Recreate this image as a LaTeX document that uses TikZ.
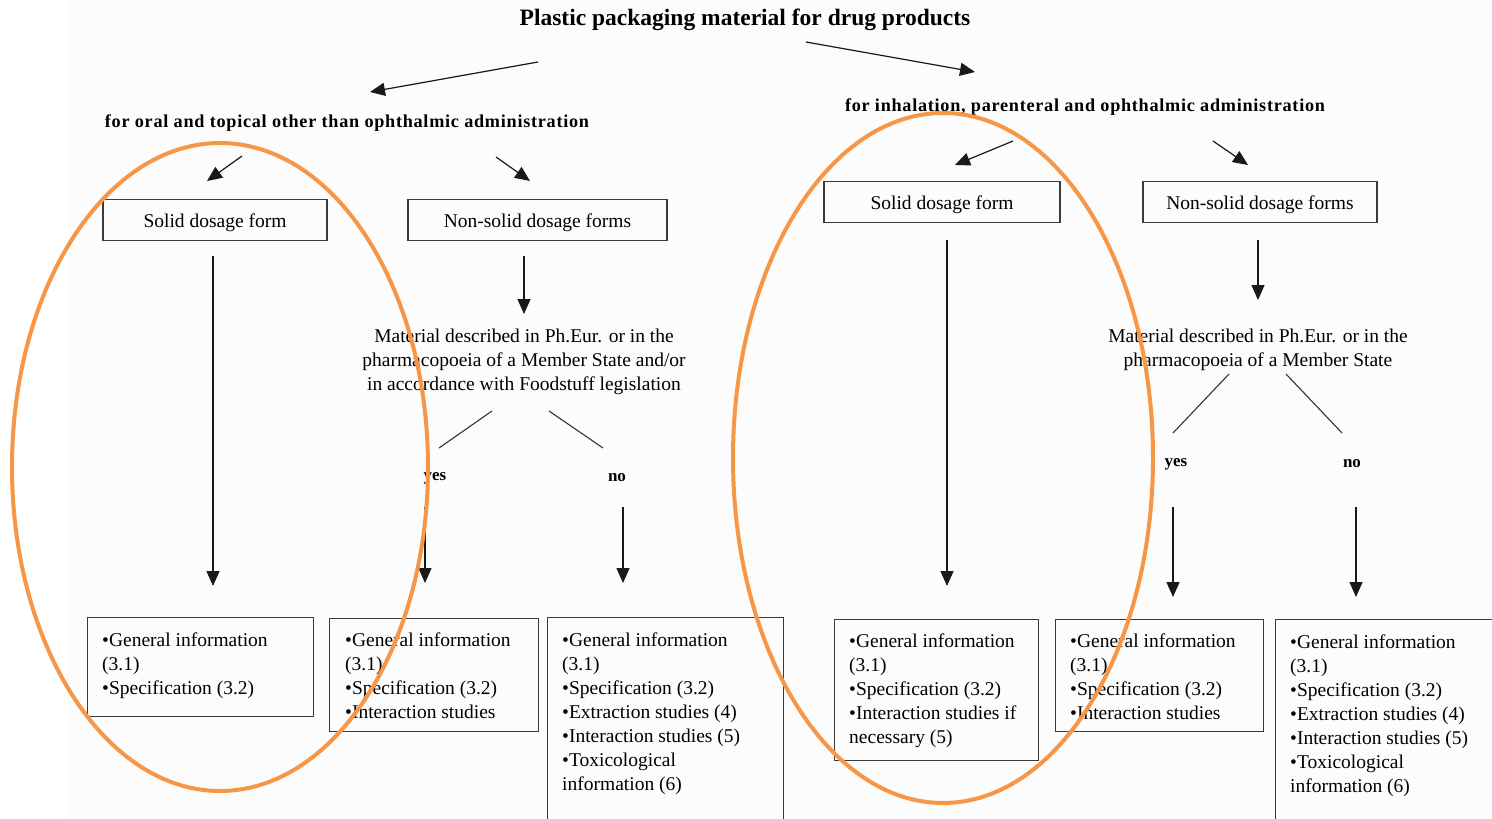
\documentclass[tikz,border=0pt]{standalone}
\usepackage{fontspec}
\setmainfont{Liberation Serif}
\usetikzlibrary{arrows.meta}
\definecolor{orng}{HTML}{F79646}
\definecolor{boxc}{HTML}{3A3A3A}
\begin{document}
\begin{tikzpicture}[x=1pt,y=-1pt,
  box/.style={draw=boxc, line width=1.4pt, inner sep=0pt, rectangle, font=\fontsize{19.5}{24}\selectfont},
  formbox/.style={box, minimum height=41pt, text height=14pt, text depth=0pt},
  lbl/.style={inner sep=0pt, font=\fontsize{19.5}{24}\selectfont},
  hdr/.style={inner sep=0pt, font=\bfseries\fontsize{18.2}{20}\selectfont},
  yn/.style={inner sep=0pt, font=\bfseries\fontsize{17}{20}\selectfont},
  arr/.style={draw=black!90, line width=1.2pt, -{Triangle[length=15pt,width=13pt]}},
  sarr/.style={draw=black!90, line width=1.2pt, -{Triangle[length=15pt,width=13pt]}},
  ln/.style={draw=black!80, line width=1.1pt},
  ell/.style={draw=orng, line width=4pt}]
\clip (0,0) rectangle (1492,819);
\fill[white] (0,0) rectangle (1492,819);
\fill[black!1] (67,0) rectangle (1492,819);

% title and headings
\node[inner sep=0pt, font=\bfseries\fontsize{23.5}{26}\selectfont] (title) at (745,20) {Plastic packaging material for drug products};
\node[hdr] (h1) at (347,123) {\addfontfeature{LetterSpace=4}for oral and topical other than ophthalmic administration};
\node[hdr] (h2) at (1085,107) {\addfontfeature{LetterSpace=4}for inhalation, parenteral and ophthalmic administration};

\coordinate (t1s) at (538,62);  \coordinate (t1e) at (370,92);
\coordinate (t2s) at (806,42);  \coordinate (t2e) at (975,72);
\draw[arr] (t1s) -- (t1e);
\draw[arr] (t2s) -- (t2e);

% second level boxes
\node[formbox, minimum width=224pt] (s1) at (215,220) {Solid dosage form};
\node[formbox, minimum width=259pt] (n1) at (537.5,220) {Non-solid dosage forms};
\node[formbox, minimum width=236pt] (s2) at (942,202) {Solid dosage form};
\node[formbox, minimum width=234pt] (n2) at (1260,202) {Non-solid dosage forms};

\coordinate (a1s) at (242,156); \coordinate (a1e) at (207,181);
\coordinate (a2s) at (496,157); \coordinate (a2e) at (530,181);
\coordinate (a3s) at (1013,141); \coordinate (a3e) at (955,165);
\coordinate (a4s) at (1213,141); \coordinate (a4e) at (1248,165);
\draw[sarr] (a1s) -- (a1e);
\draw[sarr] (a2s) -- (a2e);
\draw[sarr] (a3s) -- (a3e);
\draw[sarr] (a4s) -- (a4e);

% material questions
\node[lbl, align=center] (m1) at (524,362) {Material described in Ph.Eur. or in the\\pharmacopoeia of a Member State and/or\\in accordance with Foodstuff legislation};
\node[lbl, align=center] (m2) at (1258,350) {Material described in Ph.Eur. or in the\\pharmacopoeia of a Member State};

% vertical arrows from boxes
\coordinate (v1s) at (213,256); \coordinate (v1e) at (213,586);
\coordinate (v2s) at (524,256); \coordinate (v2e) at (524,314);
\coordinate (v3s) at (947,240); \coordinate (v3e) at (947,586);
\coordinate (v4s) at (1258,240); \coordinate (v4e) at (1258,300);
\draw[arr] (v1s) -- (v1e);
\draw[arr] (v2s) -- (v2e);
\draw[arr] (v3s) -- (v3e);
\draw[arr] (v4s) -- (v4e);

% yes/no branches
\coordinate (d1s) at (492,411); \coordinate (d1e) at (439,448);
\coordinate (d2s) at (549,411); \coordinate (d2e) at (603,448);
\coordinate (d3s) at (1229,374); \coordinate (d3e) at (1173,433);
\coordinate (d4s) at (1286,374); \coordinate (d4e) at (1342,433);
\draw[ln] (d1s) -- (d1e);
\draw[ln] (d2s) -- (d2e);
\draw[ln] (d3s) -- (d3e);
\draw[ln] (d4s) -- (d4e);

\node[yn] (yes1) at (435,478) {yes};
\node[yn] (no1) at (617,478) {no};
\node[yn] (yes2) at (1176,464) {yes};
\node[yn] (no2) at (1352,464) {no};

\coordinate (w1s) at (425,507); \coordinate (w1e) at (425,583);
\coordinate (w2s) at (623,507); \coordinate (w2e) at (623,583);
\coordinate (w3s) at (1173,507); \coordinate (w3e) at (1173,597);
\coordinate (w4s) at (1356,507); \coordinate (w4e) at (1356,597);
\draw[arr] (w1s) -- (w1e);
\draw[arr] (w2s) -- (w2e);
\draw[arr] (w3s) -- (w3e);
\draw[arr] (w4s) -- (w4e);

% bottom boxes
\node[box, anchor=north west, minimum width=226pt, minimum height=99pt] (b1) at (87,617) {};
\node[box, anchor=north west, minimum width=209pt, minimum height=113pt] (b2) at (329,618) {};
\node[box, anchor=north west, minimum width=236pt, minimum height=240pt] (b3) at (547,617) {};
\node[box, anchor=north west, minimum width=204pt, minimum height=141pt] (b4) at (834,619) {};
\node[box, anchor=north west, minimum width=208pt, minimum height=112pt] (b5) at (1055,619) {};
\node[box, anchor=north west, minimum width=260pt, minimum height=240pt] (b6) at (1275,619) {};

\node[lbl, align=left, anchor=north west] (bt1) at (102,633) {•General information\\(3.1)\\•Specification (3.2)};
\node[lbl, align=left, anchor=north west] (bt2) at (345,633) {•General information\\(3.1)\\•Specification (3.2)\\•Interaction studies};
\node[lbl, align=left, anchor=north west] (bt3) at (562,633) {•General information\\(3.1)\\•Specification (3.2)\\•Extraction studies (4)\\•Interaction studies (5)\\•Toxicological\\information (6)};
\node[lbl, align=left, anchor=north west] (bt4) at (849,634) {•General information\\(3.1)\\•Specification (3.2)\\•Interaction studies if\\necessary (5)};
\node[lbl, align=left, anchor=north west] (bt5) at (1070,634) {•General information\\(3.1)\\•Specification (3.2)\\•Interaction studies};
\node[lbl, align=left, anchor=north west] (bt6) at (1290,635) {•General information\\(3.1)\\•Specification (3.2)\\•Extraction studies (4)\\•Interaction studies (5)\\•Toxicological\\information (6)};

% orange highlight ellipses
\draw[ell] (220,467) ellipse [x radius=208, y radius=324];
\draw[ell] (943,458) ellipse [x radius=210, y radius=345];
\end{tikzpicture}
\end{document}
